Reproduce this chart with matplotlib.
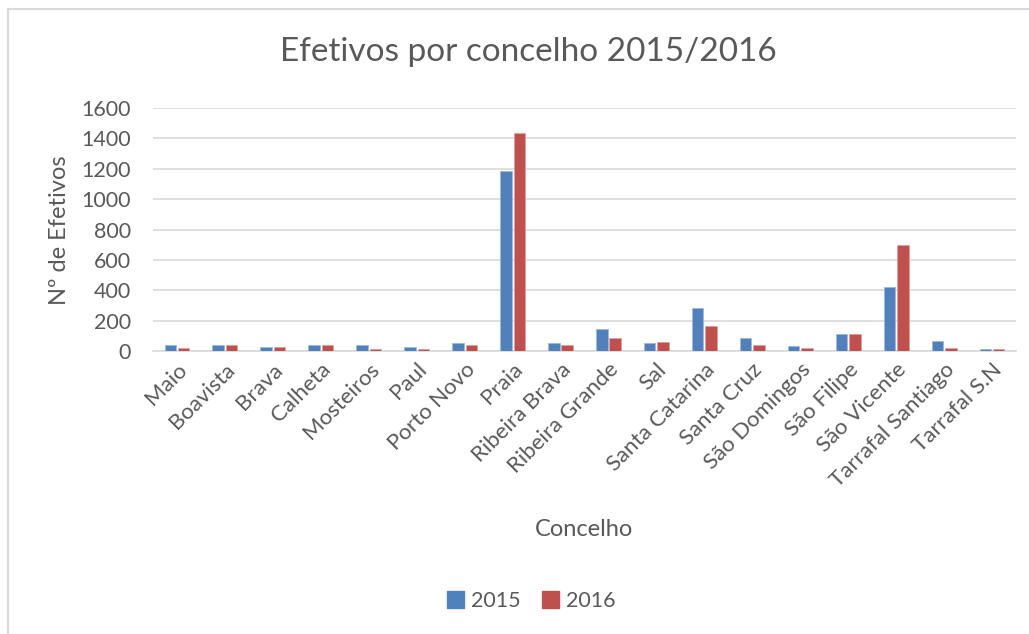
import numpy as np
import matplotlib.pyplot as plt
from matplotlib.patches import Patch
from matplotlib.lines import Line2D

plt.rcParams['font.family'] = ['Lato', 'DejaVu Sans']

concelhos = ["Maio", "Boavista", "Brava", "Calheta", "Mosteiros", "Paul",
             "Porto Novo", "Praia", "Ribeira Brava", "Ribeira Grande", "Sal",
             "Santa Catarina", "Santa Cruz", "São Domingos", "São Filipe",
             "São Vicente", "Tarrafal Santiago", "Tarrafal S.N"]
efetivos_2015 = [37, 37, 26, 38, 40, 24, 50, 1182, 53, 145, 50, 281, 86, 35, 110, 421, 64, 16]
efetivos_2016 = [18, 40, 24, 38, 12, 12, 42, 1437, 40, 84, 57, 163, 38, 22, 110, 696, 18, 12]
yticks = [0, 200, 400, 600, 800, 1000, 1200, 1400, 1600]

blue = '#4F81BD'
red = '#C0504D'
txt = '#595959'

W, H = 1029, 634
fig = plt.figure(figsize=(W / 100, H / 100), dpi=100)
ax = fig.add_axes([153 / W, 1 - 351 / H, (1016 - 153) / W, (351 - 108) / H])

x = np.arange(len(concelhos))
bw = 0.24
ax.bar(x - bw / 2 - 0.02, efetivos_2015, bw, color=blue, edgecolor='#9DB9DD', linewidth=0.6, zorder=3)
ax.bar(x + bw / 2 + 0.02, efetivos_2016, bw, color=red, edgecolor='#DDA09E', linewidth=0.6, zorder=3)

ax.set_xlim(-0.5, len(concelhos) - 0.5)
ax.set_ylim(0, 1600)
ax.set_yticks(yticks)
ax.set_yticklabels([str(v) for v in yticks], fontsize=15.5, color=txt)
ax.set_xticks(x)
ax.set_xticklabels(concelhos, rotation=45, ha='right', rotation_mode='anchor',
                   fontsize=16, color=txt)
ax.tick_params(axis='y', length=0, pad=16)
ax.tick_params(axis='x', length=0, pad=6)
ax.grid(axis='y', color='#D9D9D9', linewidth=1.2, zorder=0)
for s in ['top', 'right', 'left']:
    ax.spines[s].set_visible(False)
ax.spines['bottom'].set_color('#D9D9D9')
ax.spines['bottom'].set_linewidth(1.2)

fig.text(528 / W, 1 - 52 / H, 'Efetivos por concelho 2015/2016', ha='center', va='center',
         fontsize=24, color=txt)
fig.text(60 / W, 1 - 230 / H, 'Nº de Efetivos', rotation=90, ha='center', va='center',
         fontsize=17, color=txt)
fig.text(584 / W, 1 - 530 / H, 'Concelho', ha='center', va='center', fontsize=17, color=txt)

handles = [Patch(color=blue, label='2015'), Patch(color=red, label='2016')]
fig.legend(handles=handles, loc='center', bbox_to_anchor=(531 / W, 1 - 601 / H), ncol=2,
           frameon=False, fontsize=15.5, labelcolor=txt, handlelength=0.8, handleheight=0.8,
           handletextpad=0.3, columnspacing=1.0)

# chart border (left and top edges visible)
fig.add_artist(Line2D([8 / W, 8 / W], [0, 1 - 9 / H], transform=fig.transFigure, color='#D9D9D9', linewidth=1.5))
fig.add_artist(Line2D([8 / W, 1], [1 - 9 / H, 1 - 9 / H], transform=fig.transFigure, color='#D9D9D9', linewidth=1.5))

fig.savefig('out.png', dpi=100)
